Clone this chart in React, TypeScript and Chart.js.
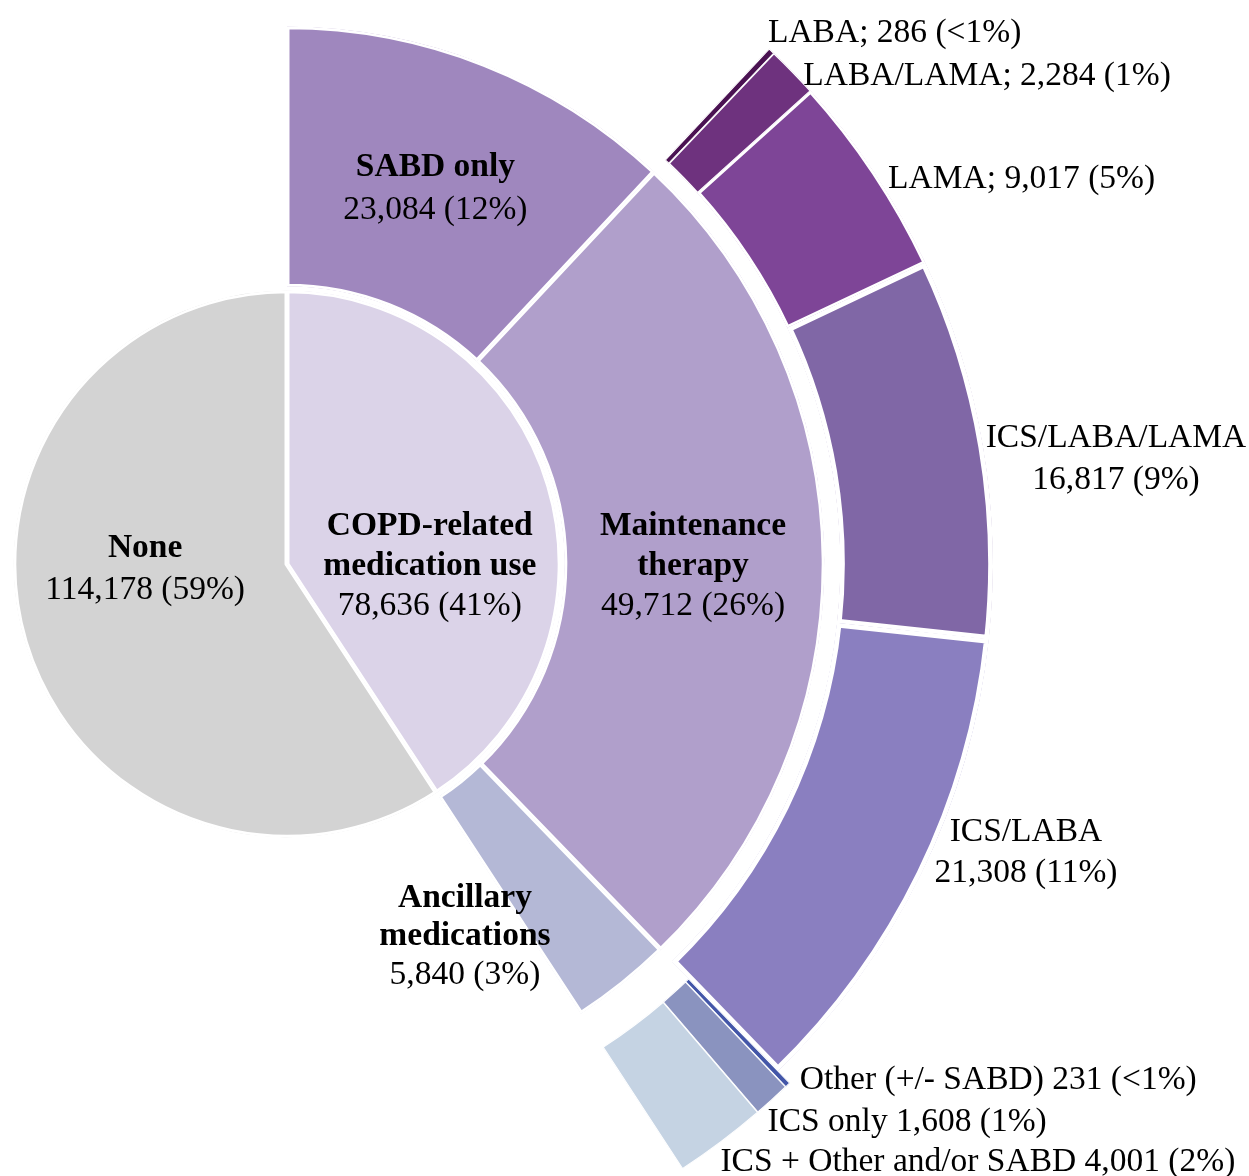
import React, { useEffect, useRef } from "react";
import { Chart, registerables } from "chart.js";

Chart.register(...registerables);

// ---------- data ----------
const topLabels = ["COPD-related medication use", "None"];
const topValues = [78636, 114178];

const copdLabels = ["SABD only", "Maintenance therapy", "Ancillary medications"];
const copdValues = [23084, 49712, 5840];

const maintenanceLabels = ["LABA", "LABA/LAMA", "LAMA", "ICS/LABA/LAMA", "ICS/LABA"];
const maintenanceValues = [286, 2284, 9017, 16817, 21308];

const ancillaryLabels = ["Other (+/- SABD)", "ICS only", "ICS + Other and/or SABD"];
const ancillaryValues = [231, 1608, 4001];

// ---------- styles ----------
const topColors = ["#DBD3E8", "#D3D3D3"];
const copdColors = ["#9F87BE", "#B09FCB", "#B4B8D6"];
const maintenanceColors = ["#4A1252", "#6E327E", "#7E4597", "#8067A6", "#8A7FC0"];
const ancillaryColors = ["#4356A8", "#8A93BF", "#C5D3E3"];

const W = 1249;
const H = 1176;
const CX = 287;
const CY = 564;
const FONT_SIZE = 33.5;
const TEXT_SHIFT_Y = 2.5;
const FONT_FAMILY = '"Liberation Serif", "Times New Roman", serif';

const total = topValues.reduce((a, b) => a + b, 0);
const deg = (v: number) => (v / total) * 360;
const num = (v: number) => v.toLocaleString("en-US");
const pct = (v: number) => {
  const p = (v / total) * 100;
  return p < 0.5 ? "<1%" : Math.round(p) + "%";
};
const valueText = (v: number) => `${num(v)} (${pct(v)})`;

// place each ring at absolute radii (outer/inner px), datasets ordered outer -> inner
const RING_COUNT = 4;
function ringOpts(index: number, outer: number, inner: number) {
  const k = outer - inner;
  const r = outer + k * index;
  const c = 1 - (RING_COUNT * k) / r;
  return { radius: r, cutout: `${Math.max(c, 0) * 100}%`, weight: 1 };
}

type Line = { text: string; bold?: boolean };
type LabelSpec = {
  ds: number;
  idx: number;
  r: number;
  dx: number;
  dy: number;
  align: CanvasTextAlign;
  lh: number;
  lines: Line[];
};

const labelSpecs: LabelSpec[] = [
  { ds: 3, idx: 0, r: 149, dx: 0, dy: 42, align: "center", lh: 40,
    lines: [{ text: "COPD-related", bold: true }, { text: "medication use", bold: true }, { text: valueText(topValues[0]) }] },
  { ds: 3, idx: 1, r: 147, dx: -1, dy: -39, align: "center", lh: 42,
    lines: [{ text: topLabels[1], bold: true }, { text: valueText(topValues[1]) }] },
  { ds: 2, idx: 0, r: 404, dx: 0, dy: -2, align: "center", lh: 42,
    lines: [{ text: copdLabels[0], bold: true }, { text: valueText(copdValues[0]) }] },
  { ds: 2, idx: 1, r: 406, dx: 0, dy: 3, align: "center", lh: 40,
    lines: [{ text: "Maintenance", bold: true }, { text: "therapy", bold: true }, { text: valueText(copdValues[1]) }] },
  { ds: 2, idx: 2, r: 410, dx: -78, dy: 50, align: "center", lh: 38,
    lines: [{ text: "Ancillary", bold: true }, { text: "medications", bold: true }, { text: valueText(copdValues[2]) }] },
  { ds: 1, idx: 0, r: 715, dx: -10, dy: -14, align: "left", lh: 40,
    lines: [{ text: `${maintenanceLabels[0]}; ${valueText(maintenanceValues[0])}` }] },
  { ds: 1, idx: 1, r: 715, dx: 4, dy: 8, align: "left", lh: 40,
    lines: [{ text: `${maintenanceLabels[1]}; ${valueText(maintenanceValues[1])}` }] },
  { ds: 1, idx: 2, r: 720, dx: 2, dy: 12, align: "left", lh: 40,
    lines: [{ text: `${maintenanceLabels[2]}; ${valueText(maintenanceValues[2])}` }] },
  { ds: 1, idx: 3, r: 720, dx: 119, dy: 12, align: "center", lh: 42,
    lines: [{ text: maintenanceLabels[3] }, { text: valueText(maintenanceValues[3]) }] },
  { ds: 1, idx: 4, r: 720, dx: 92, dy: -30, align: "center", lh: 41,
    lines: [{ text: maintenanceLabels[4] }, { text: valueText(maintenanceValues[4]) }] },
  { ds: 0, idx: 0, r: 740, dx: 0, dy: -20, align: "left", lh: 40,
    lines: [{ text: `${ancillaryLabels[0]} ${valueText(ancillaryValues[0])}` }] },
  { ds: 0, idx: 1, r: 740, dx: -16, dy: 7, align: "left", lh: 40,
    lines: [{ text: `${ancillaryLabels[1]} ${valueText(ancillaryValues[1])}` }] },
  { ds: 0, idx: 2, r: 740, dx: -11, dy: 4, align: "left", lh: 40,
    lines: [{ text: `${ancillaryLabels[2]} ${valueText(ancillaryValues[2])}` }] },
];

const labelPlugin = {
  id: "sunburstLabels",
  afterDatasetsDraw(chart: any) {
    const ctx: CanvasRenderingContext2D = chart.ctx;
    ctx.save();
    ctx.fillStyle = "#000000";
    ctx.textBaseline = "middle";
    for (const spec of labelSpecs) {
      const arc = chart.getDatasetMeta(spec.ds).data[spec.idx];
      if (!arc) continue;
      const p = arc.getProps(["x", "y", "startAngle", "endAngle"], true);
      const mid = (p.startAngle + p.endAngle) / 2;
      const ax = p.x + Math.cos(mid) * spec.r + spec.dx;
      const ay = p.y + Math.sin(mid) * spec.r + spec.dy + TEXT_SHIFT_Y;
      const n = spec.lines.length;
      spec.lines.forEach((ln, i) => {
        ctx.font = `${ln.bold ? "bold " : ""}${FONT_SIZE}px ${FONT_FAMILY}`;
        ctx.textAlign = spec.align;
        ctx.fillText(ln.text, ax, ay + (i - (n - 1) / 2) * spec.lh);
      });
    }
    ctx.restore();
  },
};

export default function App() {
  const canvasRef = useRef<HTMLCanvasElement | null>(null);

  useEffect(() => {
    if (!canvasRef.current) return;
    const chart = new Chart(canvasRef.current, {
      type: "doughnut",
      data: {
        labels: [...ancillaryLabels],
        datasets: [
          {
            label: "Ancillary medications",
            data: ancillaryValues,
            backgroundColor: ancillaryColors,
            borderColor: "#ffffff",
            borderWidth: [0.7, 0.8, 0.8],
            borderAlign: "inner",
            rotation: deg(copdValues[0] + copdValues[1]),
            circumference: deg(copdValues[2]),
            clip: false,
            ...ringOpts(0, 723, 577),
          } as any,
          {
            label: "Maintenance therapy",
            data: maintenanceValues,
            backgroundColor: maintenanceColors,
            borderColor: "#ffffff",
            borderWidth: [0.8, 1, 2.5, 4.5, 4.5],
            borderAlign: "inner",
            rotation: deg(copdValues[0]),
            circumference: deg(copdValues[1]),
            clip: false,
            ...ringOpts(1, 706, 553),
          } as any,
          {
            label: "COPD-related medication use",
            data: copdValues,
            backgroundColor: copdColors,
            borderColor: "#ffffff",
            borderWidth: 2.5,
            borderAlign: "inner",
            rotation: 0,
            circumference: deg(topValues[0]),
            clip: false,
            ...ringOpts(2, 537.5, 277.5),
          } as any,
          {
            label: "All",
            data: topValues,
            backgroundColor: topColors,
            borderColor: "#ffffff",
            borderWidth: 2.5,
            borderAlign: "inner",
            rotation: 0,
            circumference: 360,
            clip: false,
            ...ringOpts(3, 273.5, 0),
          } as any,
        ],
      },
      options: {
        responsive: false,
        maintainAspectRatio: false,
        animation: false,
        events: [],
        layout: {
          padding: { left: 0, top: 0, right: W - 2 * CX, bottom: H - 2 * CY },
        },
        plugins: {
          legend: { display: false },
          tooltip: { enabled: false },
        },
      },
      plugins: [labelPlugin],
    });
    return () => chart.destroy();
  }, []);

  return (
    <div
      style={{
        position: "absolute",
        left: 0,
        top: 0,
        width: W,
        height: H,
        overflow: "hidden",
        background: "#ffffff",
      }}
    >
      <canvas
        ref={canvasRef}
        width={W}
        height={H}
        style={{ display: "block", width: W, height: H }}
      />
    </div>
  );
}
